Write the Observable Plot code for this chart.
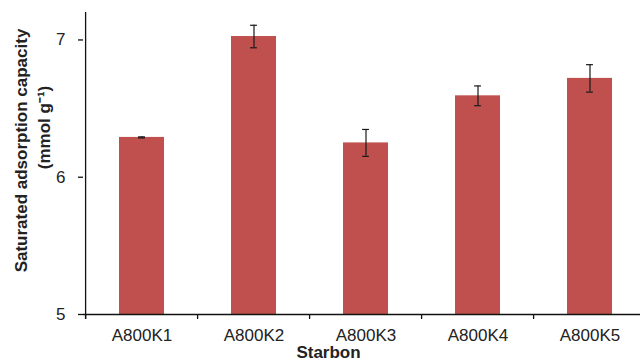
<!DOCTYPE html>
<html>
<head>
<meta charset="utf-8">
<script src="https://cdn.jsdelivr.net/npm/d3@7"></script>
<script src="https://cdn.jsdelivr.net/npm/@observablehq/plot@0.6"></script>
<style>
  html, body { margin: 0; padding: 0; background: #fff; overflow: hidden; }
  #chart svg { display: block; }
</style>
</head>
<body>
<div id="chart"></div>
<script>
const categories = ["A800K1", "A800K2", "A800K3", "A800K4", "A800K5"];
const values = [6.29, 7.025, 6.25, 6.593, 6.72];
const errors = [0.004, 0.082, 0.098, 0.072, 0.10];
const yTicks = [5, 6, 7];
const yLabel1 = "Saturated adsorption capacity";
const yLabel2 = "(mmol g\u207B\u00B9)";
const xLabel = "Starbon";

const data = categories.map((c, i) => ({name: c, value: values[i], err: errors[i]}));

const W = 640, H = 363;
const mL = 83, mR = -7, mT = 12, mB = 49;
const step = (W - mR - mL) / categories.length;
const bw = step * 0.4;
const capHalf = 3.5;
const pxPerUnit = (H - mB - mT) / (7.2 - 5);
const tickLen = 5 / pxPerUnit;
const axisColor = "#111";

const chart = Plot.plot({
  width: W,
  height: H,
  marginLeft: mL,
  marginRight: mR,
  marginTop: mT,
  marginBottom: mB,
  style: {fontFamily: "'Liberation Sans', Arial, sans-serif", fontSize: "17px", color: "#222", background: "#fff", overflow: "visible"},
  x: {domain: categories, paddingInner: 0.6, paddingOuter: 0.3, align: 0.5},
  y: {domain: [5, 7.2]},
  marks: [
    Plot.barY(data, {x: "name", y1: 5, y2: "value", fill: "#C0504D"}),
    Plot.ruleX(data, {x: "name", y1: d => d.value - d.err, y2: d => d.value + d.err, stroke: "#1a1a1a", strokeWidth: 1.2}),
    Plot.tickY(data, {x: "name", y: d => d.value + d.err, stroke: "#1a1a1a", strokeWidth: 1.2, insetLeft: bw / 2 - capHalf, insetRight: bw / 2 - capHalf}),
    Plot.tickY(data, {x: "name", y: d => d.value - d.err, stroke: "#1a1a1a", strokeWidth: 1.2, insetLeft: bw / 2 - capHalf, insetRight: bw / 2 - capHalf}),
    Plot.axisY({ticks: yTicks, tickFormat: d3.format("d"), tickSize: 5, tickPadding: 13, fontSize: 17, label: null, stroke: axisColor, strokeWidth: 1.3}),
    Plot.axisX({tickSize: 0, tickPadding: 14, fontSize: 17, label: null}),
    Plot.ruleY([5], {stroke: axisColor, strokeWidth: 1.3}),
    Plot.ruleX([categories[0]], {x: d => d, dx: -step / 2, y1: 5 - tickLen, y2: 7.2, stroke: axisColor, strokeWidth: 1.3}),
    Plot.ruleX(categories, {x: d => d, dx: -step / 2, y1: 5, y2: 5 - tickLen, stroke: axisColor, strokeWidth: 1.3}),
    Plot.text([yLabel1], {text: d => d, frameAnchor: "left", textAnchor: "middle", rotate: -90, dx: -61.5, dy: -13, fontWeight: "bold", fontSize: 17, fill: "#222"}),
    Plot.text([yLabel2], {text: d => d, frameAnchor: "left", textAnchor: "middle", rotate: -90, dx: -38.5, dy: -36, fontWeight: "bold", fontSize: 17, fill: "#222"}),
    Plot.text([xLabel], {text: d => d, frameAnchor: "bottom", textAnchor: "middle", lineAnchor: "top", dx: -37, dy: 31, fontWeight: "bold", fontSize: 17, fill: "#222"})
  ]
});
document.getElementById("chart").appendChild(chart);
</script>
</body>
</html>
